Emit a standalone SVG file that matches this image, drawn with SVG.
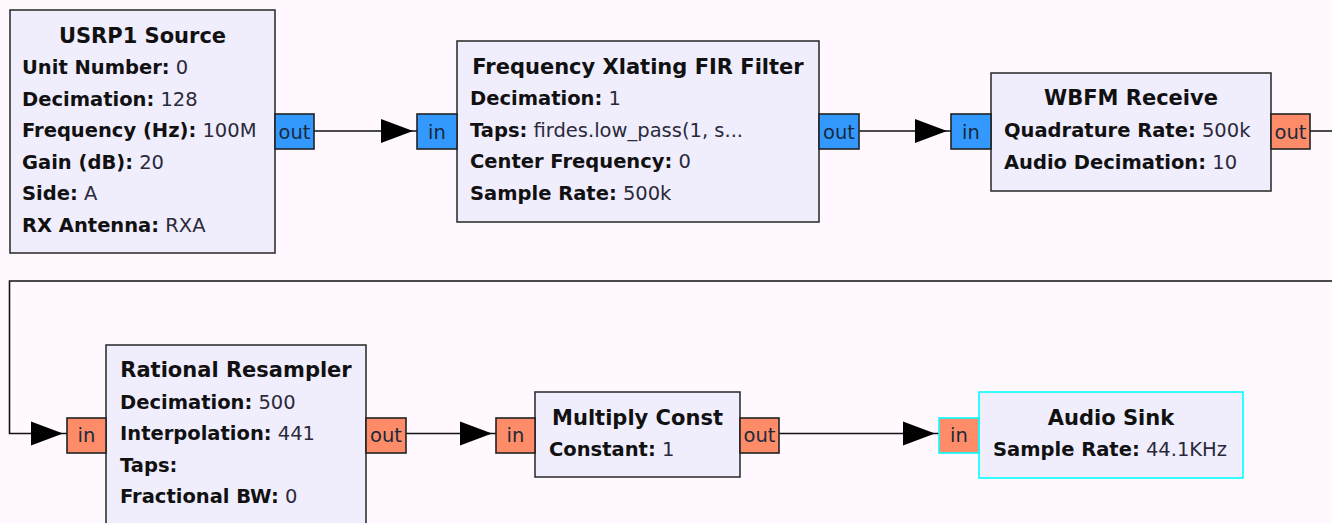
<svg xmlns="http://www.w3.org/2000/svg" width="1332" height="523" viewBox="0 0 1332 523">
<defs>
<style>
.bg{fill:#FFF9FF}
.blk{fill:#F0EDFD;stroke:#333;stroke-width:1.6}
.hl{stroke:#00FFFF}
.pc{fill:#3399FF;stroke:#222;stroke-width:1.6}
.pf{fill:#FF8C69;stroke:#222;stroke-width:1.6}
.pf.hl{stroke:#00FFFF}
text{font-family:"DejaVu Sans","Liberation Sans",sans-serif;fill:#111}
.t{font-size:21px;font-weight:bold;text-anchor:middle}
.p{font-size:19.5px}
.k{font-weight:bold}
.v{fill:#2a2a3a}
.pl{font-size:19.5px;text-anchor:middle;fill:#1a2a3a}
.w{fill:none;stroke:#111;stroke-width:1.6}
.ah{fill:#000}
</style>
</defs>
<rect class="bg" x="0" y="0" width="1332" height="523"/>
<g id="connectors">
<path class="w" d="M314,131 H417"/>
<polygon class="ah" points="413,131 381,119 381,143"/>
<path class="w" d="M859,131 H951"/>
<polygon class="ah" points="947,131 915,119 915,143"/>
<path class="w" d="M1310,131 H1345 V281 H9.5 V433.5 H67"/>
<polygon class="ah" points="63,433.5 31,421.5 31,445.5"/>
<path class="w" d="M406,433.5 H496"/>
<polygon class="ah" points="492,433.5 460,421.5 460,445.5"/>
<path class="w" d="M779,433.5 H939"/>
<polygon class="ah" points="935,433.5 903,421.5 903,445.5"/>
</g>
<g id="usrp1_source">
<rect class="blk" x="10" y="10" width="265" height="243"/>
<text class="t" x="142.5" y="43">USRP1 Source</text>
<text class="p" x="22" y="74"><tspan class="k">Unit Number:</tspan><tspan class="v"> 0</tspan></text>
<text class="p" x="22" y="105.5"><tspan class="k">Decimation:</tspan><tspan class="v"> 128</tspan></text>
<text class="p" x="22" y="137"><tspan class="k">Frequency (Hz):</tspan><tspan class="v"> 100M</tspan></text>
<text class="p" x="22" y="168.5"><tspan class="k">Gain (dB):</tspan><tspan class="v"> 20</tspan></text>
<text class="p" x="22" y="200"><tspan class="k">Side:</tspan><tspan class="v"> A</tspan></text>
<text class="p" x="22" y="231.5"><tspan class="k">RX Antenna:</tspan><tspan class="v"> RXA</tspan></text>
<rect class="pc" x="275" y="114" width="39" height="35"/>
<text class="pl" x="294.5" y="138.5">out</text>
</g>
<g id="freq_xlating_fir_filter">
<rect class="blk" x="457" y="41" width="362" height="181"/>
<text class="t" x="638" y="73.5">Frequency Xlating FIR Filter</text>
<text class="p" x="470" y="105"><tspan class="k">Decimation:</tspan><tspan class="v"> 1</tspan></text>
<text class="p" x="470" y="136.5"><tspan class="k">Taps:</tspan><tspan class="v"> firdes.low_pass(1, s...</tspan></text>
<text class="p" x="470" y="168"><tspan class="k">Center Frequency:</tspan><tspan class="v"> 0</tspan></text>
<text class="p" x="470" y="199.5"><tspan class="k">Sample Rate:</tspan><tspan class="v"> 500k</tspan></text>
<rect class="pc" x="417" y="114" width="40" height="35"/>
<text class="pl" x="437" y="138.5">in</text>
<rect class="pc" x="819" y="114" width="40" height="35"/>
<text class="pl" x="839" y="138.5">out</text>
</g>
<g id="wbfm_receive">
<rect class="blk" x="991" y="73" width="280" height="118"/>
<text class="t" x="1131" y="105">WBFM Receive</text>
<text class="p" x="1004" y="137"><tspan class="k">Quadrature Rate:</tspan><tspan class="v"> 500k</tspan></text>
<text class="p" x="1004" y="168.5"><tspan class="k">Audio Decimation:</tspan><tspan class="v"> 10</tspan></text>
<rect class="pc" x="951" y="114" width="40" height="35"/>
<text class="pl" x="971" y="138.5">in</text>
<rect class="pf" x="1271" y="114" width="39" height="35"/>
<text class="pl" x="1290.5" y="138.5">out</text>
</g>
<g id="rational_resampler">
<rect class="blk" x="106" y="345" width="260" height="185"/>
<text class="t" x="236" y="377">Rational Resampler</text>
<text class="p" x="120" y="408.5"><tspan class="k">Decimation:</tspan><tspan class="v"> 500</tspan></text>
<text class="p" x="120" y="440"><tspan class="k">Interpolation:</tspan><tspan class="v"> 441</tspan></text>
<text class="p" x="120" y="471.5"><tspan class="k">Taps:</tspan></text>
<text class="p" x="120" y="503"><tspan class="k">Fractional BW:</tspan><tspan class="v"> 0</tspan></text>
<rect class="pf" x="67" y="418" width="39" height="35"/>
<text class="pl" x="86.5" y="442">in</text>
<rect class="pf" x="366" y="418" width="40" height="35"/>
<text class="pl" x="386" y="442">out</text>
</g>
<g id="multiply_const">
<rect class="blk" x="535" y="392" width="205" height="85"/>
<text class="t" x="637.5" y="425">Multiply Const</text>
<text class="p" x="549" y="456"><tspan class="k">Constant:</tspan><tspan class="v"> 1</tspan></text>
<rect class="pf" x="496" y="418" width="39" height="35"/>
<text class="pl" x="515.5" y="442">in</text>
<rect class="pf" x="740" y="418" width="39" height="35"/>
<text class="pl" x="759.5" y="442">out</text>
</g>
<g id="audio_sink">
<rect class="blk hl" x="979" y="392" width="264" height="86"/>
<text class="t" x="1111" y="424.5">Audio Sink</text>
<text class="p" x="993" y="456"><tspan class="k">Sample Rate:</tspan><tspan class="v"> 44.1KHz</tspan></text>
<rect class="pf hl" x="939" y="418" width="40" height="35"/>
<text class="pl" x="959" y="442">in</text>
</g>
</svg>
